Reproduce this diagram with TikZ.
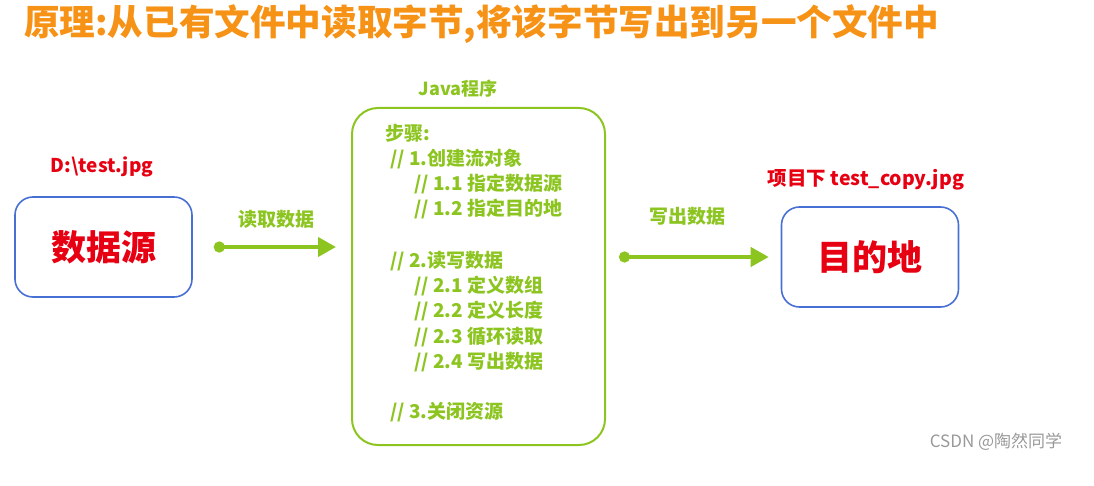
\documentclass[tikz,border=0pt]{standalone}
\usepackage{fontspec}
\setmainfont{Noto Sans CJK SC}
\usepackage{tikz}
\usetikzlibrary{arrows.meta}

\definecolor{ttlorange}{RGB}{246,146,22}
\definecolor{codegreen}{RGB}{140,196,32}
\definecolor{pathred}{RGB}{230,0,18}
\definecolor{boxblue}{RGB}{72,112,212}

\begin{document}
\begin{tikzpicture}[
    x=1pt, y=-1pt,
    >=Stealth,
    endbox/.style  = {rectangle, rounded corners=18pt, draw=boxblue, line width=1.6pt,
                      minimum width=177pt, minimum height=100pt,
                      font=\fontsize{35}{40}\selectfont\bfseries, text=pathred},
    progbox/.style = {rectangle, rounded corners=26pt, draw=codegreen, line width=2pt,
                      minimum width=253pt, minimum height=337pt},
    path/.style    = {font=\fontsize{19}{23}\selectfont\bfseries, text=pathred, inner sep=0pt},
    codeln/.style  = {anchor=west, inner sep=0pt, font=\fontsize{19}{23}\selectfont\bfseries, text=codegreen},
    flowlbl/.style = {font=\fontsize{19}{23}\selectfont\bfseries, text=codegreen, inner sep=0pt},
    flow/.style    = {draw=codegreen, line width=4pt,
                      {Circle[length=11pt]}-{Triangle[length=18pt,width=19pt]}},
  ]
  \useasboundingbox (0,0) rectangle (1094,486);
  % title
  \node[anchor=west, inner sep=0pt, text=ttlorange, font=\fontsize{35.6}{42}\selectfont\bfseries]
    (title) at (24,24) {原理:从已有文件中读取字节,将该字节写出到另一个文件中};
  % source and destination
  \node[endbox] (src) at (103.5,247) {数据源};
  \node[endbox] (dst) at (870,257) {目的地};
  \node[path] (srcpath) at (102,167) {D:\textbackslash test.jpg};
  \node[path, font=\fontsize{19.5}{23}\selectfont\bfseries] (dstpath) at (866,180) {项目下 test\_copy.jpg};
  % java program
  \node[progbox] (java) at (478.5,276.5) {};
  \node[flowlbl, font=\fontsize{18}{22}\selectfont\bfseries] (javalbl) at (458,89) {Java程序};
  \node[codeln] (s0) at (385,133) {步骤:};
  \node[codeln] (s1) at (390,159) {// 1.创建流对象};
  \node[codeln] (s11) at (414,184) {// 1.1 指定数据源};
  \node[codeln] (s12) at (414,209) {// 1.2 指定目的地};
  \node[codeln] (s2) at (390,261) {// 2.读写数据};
  \node[codeln] (s21) at (414,286) {// 2.1 定义数组};
  \node[codeln] (s22) at (414,311) {// 2.2 定义长度};
  \node[codeln] (s23) at (414,337) {// 2.3 循环读取};
  \node[codeln] (s24) at (414,362) {// 2.4 写出数据};
  \node[codeln] (s3) at (390,412) {// 3.关闭资源};
  % data flow
  \draw[flow, shorten <=21pt, shorten >=15pt] (src.east) -- (src.east -| java.west);
  \draw[flow, shorten <=13pt, shorten >=12pt] (dst.west -| java.east) -- (dst.west);
  \node[flowlbl] (rdlbl) at (276,219) {读取数据};
  \node[flowlbl] (wrlbl) at (687,216) {写出数据};
  % watermark
  \node[inner sep=0pt, text=black!40, font=\fontsize{17}{20}\selectfont] (mark) at (996,442) {CSDN @陶然同学};
\end{tikzpicture}
\end{document}
